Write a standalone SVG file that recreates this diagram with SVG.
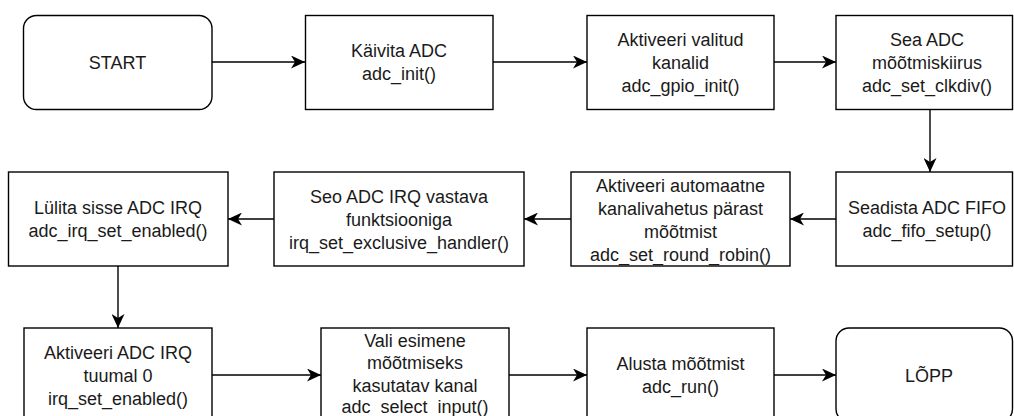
<svg xmlns="http://www.w3.org/2000/svg" width="1014" height="416" viewBox="0 0 1014 416">
  <style>
    .box { fill: #ffffff; stroke: #000000; stroke-width: 1.4; }
    .lbl { font-family: "Liberation Sans", Arial, sans-serif; font-size: 18px; fill: #1a1a1a; text-anchor: middle; }
    .edge { fill: none; stroke: #000000; stroke-width: 1.4; }
  </style>
  <defs>
    <marker id="arr" markerUnits="userSpaceOnUse" markerWidth="15" markerHeight="13" refX="14" refY="6.5" orient="auto">
      <path d="M0,0 L14,6.5 L0,13 L4,6.5 Z" fill="#000000"/>
    </marker>
  </defs>
  <rect width="1014" height="416" fill="#ffffff"/>

  <g id="connectors">
    <line class="edge" x1="212" y1="62" x2="305" y2="62" marker-end="url(#arr)"/>
    <line class="edge" x1="493" y1="62" x2="587" y2="62" marker-end="url(#arr)"/>
    <line class="edge" x1="774" y1="62" x2="836" y2="62" marker-end="url(#arr)"/>
    <line class="edge" x1="930" y1="109" x2="930" y2="172" marker-end="url(#arr)"/>
    <line class="edge" x1="836" y1="219" x2="790" y2="219" marker-end="url(#arr)"/>
    <line class="edge" x1="571" y1="219" x2="524" y2="219" marker-end="url(#arr)"/>
    <line class="edge" x1="274" y1="219" x2="228" y2="219" marker-end="url(#arr)"/>
    <line class="edge" x1="118" y1="266" x2="118" y2="328" marker-end="url(#arr)"/>
    <line class="edge" x1="212" y1="375" x2="321" y2="375" marker-end="url(#arr)"/>
    <line class="edge" x1="509" y1="375" x2="587" y2="375" marker-end="url(#arr)"/>
    <line class="edge" x1="774" y1="375" x2="836" y2="375" marker-end="url(#arr)"/>
  </g>

  <g id="start">
    <rect class="box" x="23.5" y="15.5" width="188.5" height="94" rx="13" ry="13"/>
    <text class="lbl" x="117.5" y="68.5">START</text>
  </g>
  <g id="kaivita">
    <rect class="box" x="305.5" y="15.5" width="187.5" height="94"/>
    <text class="lbl" x="399" y="57">Käivita ADC</text>
    <text class="lbl" x="399" y="80">adc_init()</text>
  </g>
  <g id="aktiveeri-valitud">
    <rect class="box" x="587" y="15.5" width="187" height="94"/>
    <text class="lbl" x="680.5" y="45.5">Aktiveeri valitud</text>
    <text class="lbl" x="680.5" y="68.5">kanalid</text>
    <text class="lbl" x="680.5" y="91.5">adc_gpio_init()</text>
  </g>
  <g id="sea-adc">
    <rect class="box" x="836" y="15.5" width="176.5" height="94"/>
    <text class="lbl" x="927" y="45.5">Sea ADC</text>
    <text class="lbl" x="927" y="68.5">mõõtmiskiirus</text>
    <text class="lbl" x="927" y="91.5">adc_set_clkdiv()</text>
  </g>

  <g id="seadista-fifo">
    <rect class="box" x="836" y="172" width="176.5" height="94"/>
    <text class="lbl" x="927" y="214">Seadista ADC FIFO</text>
    <text class="lbl" x="927" y="237">adc_fifo_setup()</text>
  </g>
  <g id="round-robin">
    <rect class="box" x="571" y="172" width="219" height="94"/>
    <text class="lbl" x="680.5" y="192">Aktiveeri automaatne</text>
    <text class="lbl" x="680.5" y="215">kanalivahetus pärast</text>
    <text class="lbl" x="680.5" y="238">mõõtmist</text>
    <text class="lbl" x="680.5" y="260.5">adc_set_round_robin()</text>
  </g>
  <g id="seo-irq">
    <rect class="box" x="274" y="172" width="250" height="94"/>
    <text class="lbl" x="399" y="202.5">Seo ADC IRQ vastava</text>
    <text class="lbl" x="399" y="225.5">funktsiooniga</text>
    <text class="lbl" x="399" y="248.5">irq_set_exclusive_handler()</text>
  </g>
  <g id="lulita-irq">
    <rect class="box" x="8.5" y="172" width="219.5" height="94"/>
    <text class="lbl" x="118" y="214">Lülita sisse ADC IRQ</text>
    <text class="lbl" x="118" y="237">adc_irq_set_enabled()</text>
  </g>

  <g id="aktiveeri-irq">
    <rect class="box" x="24" y="328" width="188" height="94"/>
    <text class="lbl" x="118" y="358.5">Aktiveeri ADC IRQ</text>
    <text class="lbl" x="118" y="381.5">tuumal 0</text>
    <text class="lbl" x="118" y="404.5">irq_set_enabled()</text>
  </g>
  <g id="vali-kanal">
    <rect class="box" x="321" y="328" width="188" height="94"/>
    <text class="lbl" x="415" y="346.5">Vali esimene</text>
    <text class="lbl" x="415" y="369">mõõtmiseks</text>
    <text class="lbl" x="415" y="391.5">kasutatav kanal</text>
    <text class="lbl" x="415" y="413">adc_select_input()</text>
  </g>
  <g id="alusta">
    <rect class="box" x="587" y="328" width="187" height="94"/>
    <text class="lbl" x="680.5" y="370">Alusta mõõtmist</text>
    <text class="lbl" x="680.5" y="393">adc_run()</text>
  </g>
  <g id="lopp">
    <rect class="box" x="836" y="328" width="176.5" height="94" rx="13" ry="13"/>
    <text class="lbl" x="929" y="381.5">LÕPP</text>
  </g>
</svg>
